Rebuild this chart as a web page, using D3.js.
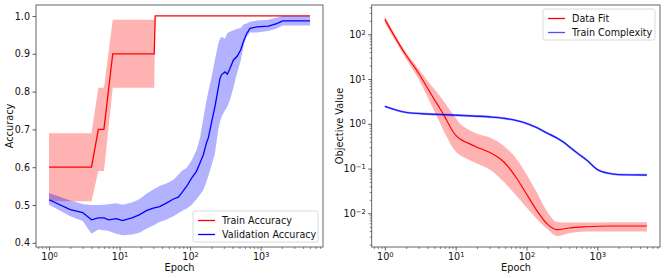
<!DOCTYPE html>
<html lang="en">
<head>
<meta charset="UTF-8">
<title>Accuracy and Objective Value</title>
<script src="https://cdnjs.cloudflare.com/ajax/libs/d3/7.8.5/d3.min.js"></script>
<style>
  body { margin: 0; background: white; }
  svg { display: block; font-family: "DejaVu Sans", sans-serif; }
</style>
</head>
<body>
<svg id="chart" width="664" height="278"></svg>
<script>
// --- left panel: accuracy ---
const trainEpochs = [1, 4, 5, 6, 8, 31, 32, 5000];
const trainMean   = [0.60, 0.60, 0.70, 0.70, 0.90, 0.90, 1.00, 1.00];
const trainHi     = [0.69, 0.69, 0.81, 0.81, 0.99, 0.99, 1.00, 1.00];
const trainLo     = [0.51, 0.51, 0.59, 0.59, 0.81, 0.81, 1.00, 1.00];

const valEpochs = [1, 2, 3, 4, 5, 6, 7, 9, 11, 15, 19, 24, 30, 37, 46, 58, 68, 76, 89, 105, 123, 138, 154, 171, 181, 202, 225, 251, 265, 280, 312, 337, 367, 410, 467, 520, 580, 632, 708, 880, 1290, 1690, 2060, 5000];
const valMean = [0.514, 0.488, 0.480, 0.461, 0.466, 0.466, 0.461, 0.464, 0.459, 0.466, 0.474, 0.485, 0.492, 0.496, 0.505, 0.516, 0.521, 0.532, 0.549, 0.571, 0.589, 0.611, 0.633, 0.665, 0.677, 0.720, 0.760, 0.810, 0.835, 0.845, 0.852, 0.846, 0.861, 0.883, 0.894, 0.910, 0.936, 0.953, 0.967, 0.971, 0.973, 0.980, 0.987, 0.987];
const valHi   = [0.532, 0.512, 0.503, 0.500, 0.500, 0.501, 0.502, 0.505, 0.501, 0.507, 0.515, 0.530, 0.541, 0.550, 0.557, 0.567, 0.580, 0.590, 0.598, 0.618, 0.645, 0.677, 0.730, 0.777, 0.800, 0.839, 0.885, 0.927, 0.940, 0.945, 0.940, 0.955, 0.958, 0.962, 0.966, 0.968, 0.978, 0.980, 0.985, 0.988, 0.990, 0.996, 1.000, 1.000];
const valLo   = [0.501, 0.470, 0.458, 0.424, 0.435, 0.433, 0.431, 0.424, 0.420, 0.422, 0.427, 0.437, 0.446, 0.455, 0.461, 0.470, 0.478, 0.484, 0.490, 0.500, 0.515, 0.527, 0.540, 0.562, 0.576, 0.606, 0.637, 0.700, 0.720, 0.734, 0.750, 0.760, 0.778, 0.810, 0.852, 0.880, 0.925, 0.945, 0.956, 0.956, 0.960, 0.967, 0.975, 0.975];

// --- right panel: objective value ---
const fitEpochs = [1, 2, 3, 4, 5, 6, 7, 8, 9, 10, 12, 15, 20, 31, 48, 73, 100, 140, 195, 270, 400, 700, 1500, 5000];
const fitMean = [216, 34, 13.5, 6.3, 3.5, 2.2, 1.45, 0.98, 0.70, 0.56, 0.44, 0.37, 0.30, 0.225, 0.14, 0.06, 0.027, 0.0115, 0.0058, 0.0043, 0.0047, 0.0050, 0.0052, 0.0052];
const fitHi   = [257, 39, 17, 9.2, 6.0, 4.2, 3.0, 2.2, 1.7, 1.35, 0.95, 0.75, 0.60, 0.49, 0.32, 0.16, 0.075, 0.029, 0.011, 0.0064, 0.0062, 0.0062, 0.0063, 0.0063];
const fitLo   = [182, 28, 10, 4.0, 1.9, 1.05, 0.62, 0.42, 0.30, 0.24, 0.19, 0.16, 0.13, 0.093, 0.050, 0.024, 0.0135, 0.0075, 0.0045, 0.0031, 0.0036, 0.0039, 0.0039, 0.0039];

const cxEpochs = [1, 2, 4, 7, 13, 20, 31, 48, 73, 100, 140, 195, 270, 340, 420, 525, 725, 1000, 1400, 2000, 5000];
const cxMean = [2.45, 1.80, 1.66, 1.60, 1.53, 1.48, 1.42, 1.33, 1.18, 1.02, 0.82, 0.62, 0.48, 0.38, 0.29, 0.22, 0.15, 0.095, 0.079, 0.073, 0.072];

const accTicks = [0.4, 0.5, 0.6, 0.7, 0.8, 0.9, 1.0];
const epochTicks = [1, 10, 100, 1000];
const objTicks = [0.01, 0.1, 1, 10, 100];

const svg = d3.select("#chart");
const plotTop = 5, plotBottom = 247;

const xL = d3.scaleLog().domain([Math.pow(10, -0.185), Math.pow(10, 3.884)]).range([36, 323]);
const yL = d3.scaleLinear().domain([0.389, 1.029]).range([plotBottom, plotTop]);
const xR = d3.scaleLog().domain([Math.pow(10, -0.185), Math.pow(10, 3.884)]).range([371.7, 660]);
const yR = d3.scaleLog().domain([Math.pow(10, -2.753), Math.pow(10, 2.655)]).range([plotBottom, plotTop]);

function minorTicks(scale) {
  const [a, b] = scale.domain();
  const out = [];
  for (let k = -4; k <= 4; k++) {
    for (let m = 2; m <= 9; m++) {
      const v = m * Math.pow(10, k);
      if (v >= a && v <= b) out.push(v);
    }
  }
  return out;
}

function supLabels(g) {
  g.selectAll(".tick text").each(function(d) {
    const t = d3.select(this);
    const e = Math.round(Math.log10(d));
    t.text(null);
    t.append("tspan").text("10");
    t.append("tspan").attr("dy", "-0.45em").attr("font-size", "0.7em")
      .text(e < 0 ? "\u2212" + (-e) : e);
  });
}

function styleAxis(g) {
  g.select(".domain").remove();
  g.selectAll(".tick line").attr("stroke", "#333").attr("stroke-width", 0.8);
  g.selectAll(".tick text").attr("fill", "#111").attr("font-size", 9.6)
    .attr("font-family", "DejaVu Sans, sans-serif");
}

function band(x, y, ep, lo, hi, color, opacity, curve) {
  const area = d3.area()
    .x(i => x(ep[i]))
    .y0(i => y(lo[i]))
    .y1(i => y(hi[i]))
    .curve(curve || d3.curveLinear);
  svg.append("path")
    .attr("d", area(d3.range(ep.length)))
    .attr("fill", color)
    .attr("fill-opacity", opacity)
    .attr("stroke", "none");
}

function line(x, y, ep, vals, color, width, opacity, curve) {
  const ln = d3.line().x(i => x(ep[i])).y(i => y(vals[i]))
    .curve(curve || d3.curveLinear);
  svg.append("path")
    .attr("d", ln(d3.range(ep.length)))
    .attr("fill", "none")
    .attr("stroke", color)
    .attr("stroke-width", width)
    .attr("stroke-opacity", opacity || 1);
}

function frame(x) {
  const [x0, x1] = x.range();
  svg.append("rect")
    .attr("x", x0).attr("y", plotTop)
    .attr("width", x1 - x0).attr("height", plotBottom - plotTop)
    .attr("fill", "none").attr("stroke", "#555").attr("stroke-width", 0.9);
}

function xAxis(x, labelX) {
  const g = svg.append("g").attr("transform", `translate(0,${plotBottom})`);
  g.call(d3.axisBottom(x).tickValues(epochTicks).tickSize(3.5).tickPadding(2.5));
  styleAxis(g);
  supLabels(g);
  const gm = svg.append("g").attr("transform", `translate(0,${plotBottom})`);
  gm.call(d3.axisBottom(x).tickValues(minorTicks(x)).tickSize(2).tickFormat(""));
  styleAxis(gm);
  gm.selectAll(".tick line").attr("stroke-width", 0.6);
  svg.append("text")
    .attr("x", labelX).attr("y", 271)
    .attr("text-anchor", "middle").attr("font-size", 9.8).attr("fill", "#111")
    .text("Epoch");
}

function legend(x0, y0, w, items) {
  const g = svg.append("g").attr("transform", `translate(${x0},${y0})`);
  g.append("rect")
    .attr("width", w).attr("height", 31)
    .attr("rx", 2)
    .attr("fill", "white").attr("fill-opacity", 0.85)
    .attr("stroke", "#d0d0d0").attr("stroke-width", 0.8);
  items.forEach((it, i) => {
    const cy = 9.5 + i * 14;
    g.append("line")
      .attr("x1", 5).attr("x2", 22).attr("y1", cy).attr("y2", cy)
      .attr("stroke", it.color).attr("stroke-width", 1.3)
      .attr("stroke-opacity", it.opacity || 1);
    g.append("text")
      .attr("x", 29).attr("y", cy + 3.5)
      .attr("font-size", 9.6).attr("fill", "#111")
      .text(it.label);
  });
}

// ---------- left ----------
band(xL, yL, trainEpochs, trainLo, trainHi, "#ff0000", 0.3);
line(xL, yL, trainEpochs, trainMean, "#ff0000", 1.3);
band(xL, yL, valEpochs, valLo, valHi, "#0000ff", 0.3);
line(xL, yL, valEpochs, valMean, "#0000ff", 1.3);
frame(xL);
xAxis(xL, 179.5);

const gyL = svg.append("g").attr("transform", "translate(36,0)");
gyL.call(d3.axisLeft(yL).tickValues(accTicks).tickSize(3.5).tickPadding(2.5).tickFormat(d3.format(".1f")));
styleAxis(gyL);
svg.append("text")
  .attr("transform", "translate(12.5,126) rotate(-90)")
  .attr("text-anchor", "middle").attr("font-size", 9.8).attr("fill", "#111")
  .text("Accuracy");

legend(193, 211, 125, [
  { label: "Train Accuracy", color: "#ff0000" },
  { label: "Validation Accuracy", color: "#0000ff" }
]);

// ---------- right ----------
const smooth = d3.curveMonotoneX;
band(xR, yR, fitEpochs, fitLo, fitHi, "#ff0000", 0.3, smooth);
line(xR, yR, fitEpochs, fitMean, "#ff0000", 1.2, 1, smooth);
band(xR, yR, cxEpochs, cxMean.map(v => v * 0.94), cxMean.map(v => v * 1.06), "#0000ff", 0.3, smooth);
line(xR, yR, cxEpochs, cxMean, "#0000ff", 1.4, 0.85, smooth);
frame(xR);
xAxis(xR, 516);

const gyR = svg.append("g").attr("transform", "translate(371.7,0)");
gyR.call(d3.axisLeft(yR).tickValues(objTicks).tickSize(3.5).tickPadding(2.5));
styleAxis(gyR);
supLabels(gyR);
const gyRm = svg.append("g").attr("transform", "translate(371.7,0)");
gyRm.call(d3.axisLeft(yR).tickValues(minorTicks(yR)).tickSize(2).tickFormat(""));
styleAxis(gyRm);
gyRm.selectAll(".tick line").attr("stroke-width", 0.6);
svg.append("text")
  .attr("transform", "translate(342.5,126) rotate(-90)")
  .attr("text-anchor", "middle").attr("font-size", 9.8).attr("fill", "#111")
  .text("Objective Value");

legend(543, 9, 112, [
  { label: "Data Fit", color: "#ff0000" },
  { label: "Train Complexity", color: "#0000ff", opacity: 0.7 }
]);
</script>
</body>
</html>
